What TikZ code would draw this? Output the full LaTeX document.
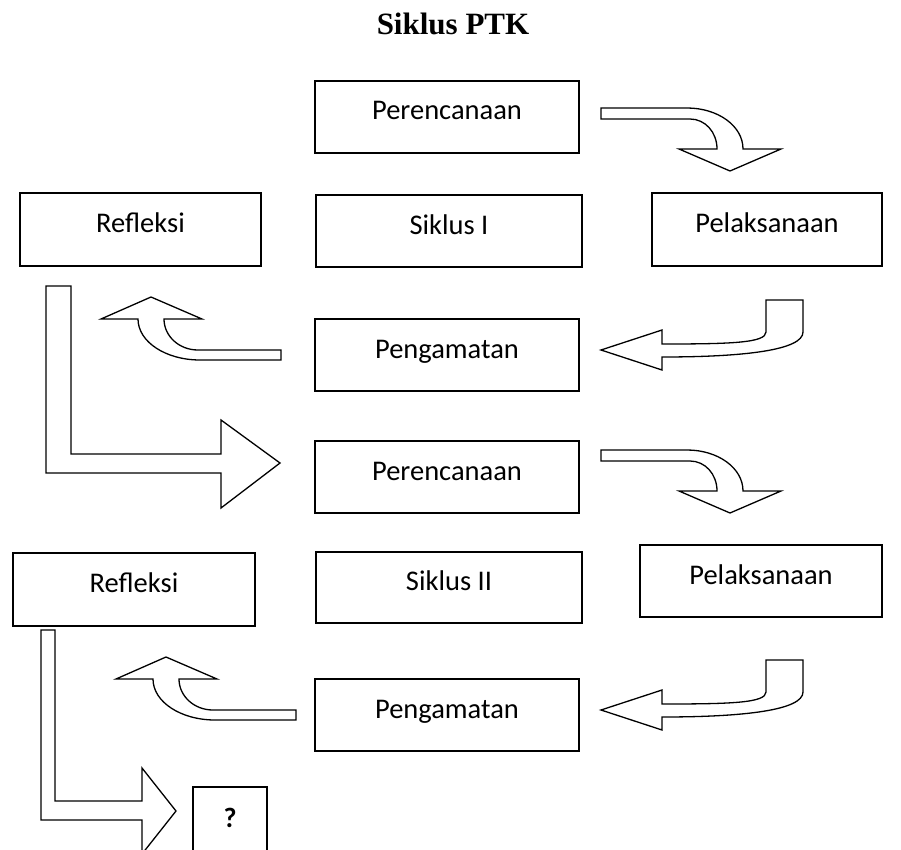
\documentclass[tikz,border=0pt]{standalone}
\usepackage{fontspec}
\setmainfont{Carlito}
\newfontfamily\titlefont{Liberation Serif}
\begin{document}
\begin{tikzpicture}[x=1pt,y=-1pt,
  box/.style={draw, line width=1.5pt, inner sep=0pt, text height=14pt, text depth=8pt,
              font=\fontsize{28.5}{34}\selectfont},
  blockarrow/.style={draw, line width=1.3pt, fill=white, line join=miter},
  curvedown/.pic={\draw[blockarrow] (601,108) -- (687,108)
      .. controls (718,108) and (743,126) .. (743,149) -- (781,149) -- (730,171)
      -- (679,149) -- (717,149) .. controls (717,132) and (705,119) .. (690,119)
      -- (601,119) -- cycle;},
  curveleft/.pic={\draw[blockarrow] (766,300) -- (803,300) -- (803,332)
      .. controls (803,350) and (745,357) .. (662,357) -- (662,370) -- (601,350)
      -- (662,330) -- (662,344) .. controls (730,344) and (766,343) .. (766,332) -- cycle;},
  curveup/.pic={\draw[blockarrow] (151,297) -- (202,319) -- (164,319)
      .. controls (164,336) and (179,350) .. (198,350) -- (281,350) -- (281,360)
      -- (200,360) .. controls (166,360) and (138,342) .. (138,319) -- (101,319) -- cycle;}
]
\useasboundingbox (0,0) rectangle (901,850);
\clip (0,0) rectangle (901,850);

% title
\node[anchor=base, font=\titlefont\bfseries\fontsize{31}{36}\selectfont] (title) at (453,35) {Siklus PTK};

% cycle I
\node[box, minimum width=264pt, minimum height=72pt] (per1) at (447,117) {Perencanaan};
\node[box, minimum width=241pt, minimum height=73pt] (ref1) at (140.5,229.5) {Refleksi};
\node[box, minimum width=266pt, minimum height=72pt] (sik1) at (449,231) {Siklus I};
\node[box, minimum width=230pt, minimum height=73pt] (pel1) at (767,229.5) {Pelaksanaan};
\node[box, minimum width=264pt, minimum height=72pt] (pen1) at (447,355) {Pengamatan};

% cycle II
\node[box, minimum width=264pt, minimum height=72pt] (per2) at (447,477) {Perencanaan};
\node[box, minimum width=242pt, minimum height=73pt] (ref2) at (134,589.5) {Refleksi};
\node[box, minimum width=266pt, minimum height=71pt] (sik2) at (449,587.5) {Siklus II};
\node[box, minimum width=242pt, minimum height=72pt] (pel2) at (761,581) {Pelaksanaan};
\node[box, minimum width=264pt, minimum height=72pt] (pen2) at (447,715) {Pengamatan};

% question box
\node[box, minimum width=74pt, minimum height=80pt, text height=10pt, text depth=10pt,
      font=\bfseries\fontsize{28}{34}\selectfont] (q) at (230,827) {?};

% block arrows, cycle I
\pic {curvedown};
\pic {curveleft};
\pic {curveup};
\draw[blockarrow] (46,286) -- (71,286) -- (71,454) -- (221,454) -- (221,420) -- (280,463)
  -- (221,508) -- (221,473) -- (46,473) -- cycle;

% block arrows, cycle II
\pic[shift={(0,342)}] {curvedown};
\pic[shift={(0,360)}] {curveleft};
\pic[shift={(15,360)}] {curveup};
\draw[blockarrow] (41,630) -- (55,630) -- (55,801) -- (142,801) -- (142,768) -- (176,811)
  -- (142,854) -- (142,820) -- (41,820) -- cycle;
\end{tikzpicture}
\end{document}
